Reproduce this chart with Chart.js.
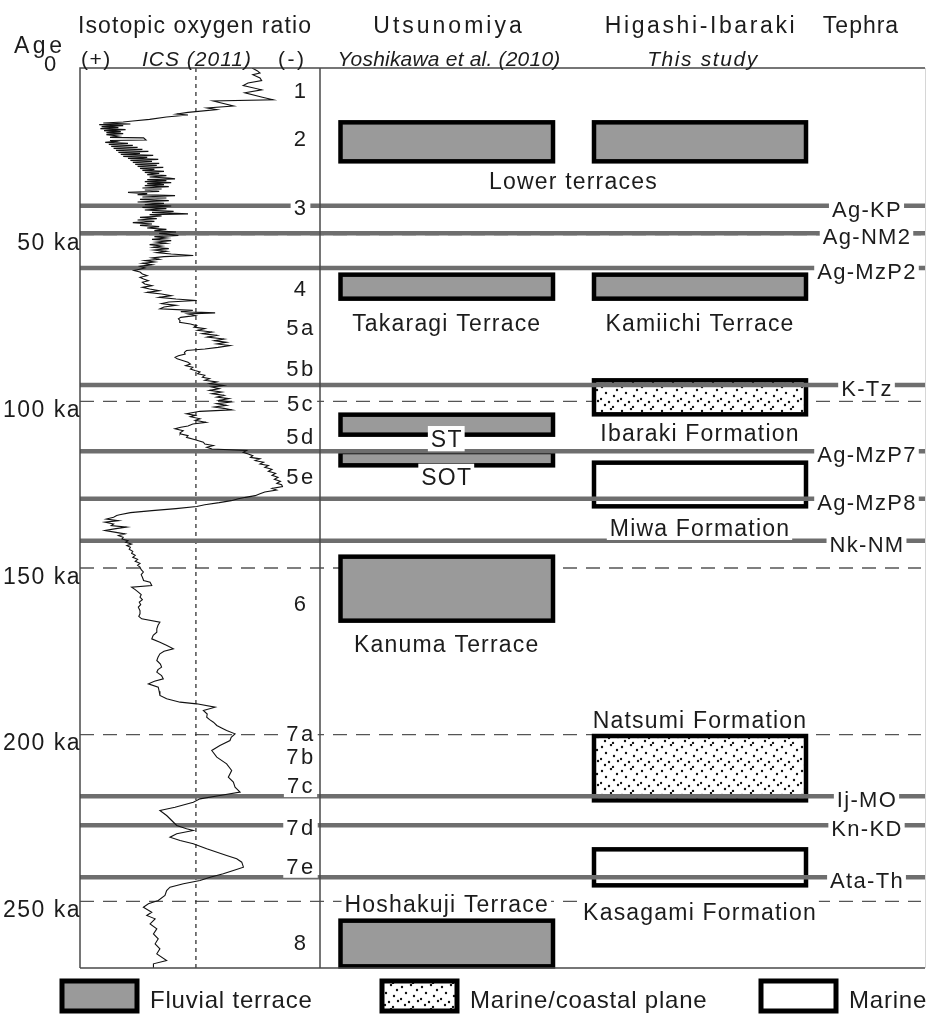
<!DOCTYPE html>
<html>
<head>
<meta charset="utf-8">
<script src="https://cdn.jsdelivr.net/npm/chart.js@4.4.0/dist/chart.umd.min.js"></script>
<style>
  html, body { margin: 0; padding: 0; background: #fff; }
  #wrap { width: 926px; height: 1014px; position: relative; }
</style>
</head>
<body>
<div id="wrap"><canvas id="chart"></canvas></div>
<script>
// ---- data ----
// isotope curve: age (ka) and relative ratio (0 = (+) side, 100 = (-) side of the panel)
const isoAge = [
  0, 0.8, 1.5, 2.0, 3.0, 3.8, 4.5, 5.25, 6.55, 7.45, 8.75, 9.55, 9.9, 11.4, 12.0, 12.5, 13.3, 13.8, 14.1, 14.7,
  15.4, 15.9, 16.2, 16.5, 16.8, 17.0, 17.3, 17.6, 17.9, 18.2, 18.5, 18.8, 19.1, 19.4, 19.7, 20.0, 20.4, 20.8, 20.95, 21.6,
  21.75, 22.0, 22.3, 22.6, 22.9, 23.2, 23.5, 23.8, 24.1, 24.4, 24.7, 25.0, 25.3, 25.6, 25.9, 26.2, 26.5, 26.8, 27.1, 27.4,
  27.7, 28.0, 28.3, 28.6, 28.9, 29.2, 29.5, 29.8, 30.1, 30.4, 30.7, 31.0, 31.3, 31.6, 32.0, 32.3, 32.7, 33.0, 33.25, 33.5,
  33.8, 34.1, 34.4, 34.7, 35.0, 35.3, 35.6, 36.0, 36.3, 36.6, 37.0, 37.3, 37.7, 38.0, 38.3, 38.7, 39.0, 39.4, 39.8, 40.2,
  40.6, 41.0, 41.4, 41.8, 42.2, 42.6, 43.0, 43.3, 43.75, 44.0, 44.4, 44.8, 45.2, 45.6, 46.0, 46.4, 46.8, 47.2, 47.6, 48.0,
  48.4, 48.8, 49.2, 49.6, 50.0, 50.25, 50.6, 51.0, 51.4, 51.8, 52.2, 52.6, 53.0, 53.4, 53.8, 54.2, 54.6, 55.0, 55.4, 55.8,
  56.25, 56.6, 57.0, 57.4, 57.8, 58.2, 58.6, 59.0, 59.5, 60.0, 60.5, 60.75, 61.2, 61.8, 62.3, 62.8, 63.3, 63.8, 64.3, 64.8,
  65.3, 65.8, 66.3, 66.8, 67.3, 67.8, 68.3, 68.8, 69.3, 69.75, 70.2, 70.7, 71.2, 71.7, 72.25, 72.7, 73.1, 73.45, 73.8, 74.3,
  74.8, 75.25, 75.8, 76.3, 76.8, 77.3, 77.75, 78.2, 78.7, 79.2, 79.7, 80.2, 80.75, 81.3, 81.8, 82.3, 82.8, 83.25, 83.8, 84.3,
  84.75, 85.3, 85.8, 86.3, 86.8, 87.25, 87.7, 88.3, 88.8, 89.3, 89.8, 90.3, 90.75, 91.2, 91.7, 92.2, 92.75, 93.2, 93.7, 94.2,
  94.7, 95.25, 95.7, 96.2, 96.7, 97.2, 97.7, 98.2, 98.75, 99.2, 99.7, 100.2, 100.7, 101.2, 101.7, 102.1, 102.55, 103.0, 103.75, 104.2,
  104.6, 105.25, 105.7, 106.3, 106.8, 107.4, 107.8, 108.25, 108.8, 109.3, 109.75, 110.3, 110.8, 111.5, 112.25, 112.8, 113.25, 113.8, 114.3, 114.75,
  115.3, 115.8, 116.3, 116.8, 117.25, 117.8, 118.3, 118.8, 119.25, 119.8, 120.4, 121.0, 121.6, 122.2, 122.8, 123.4, 124.0, 124.6, 125.0, 125.55,
  126.1, 126.6, 127.2, 127.75, 128.3, 128.8, 129.25, 129.8, 130.4, 131.0, 131.55, 132.2, 132.8, 133.4, 134.0, 134.25, 134.8, 135.3, 135.8, 136.25,
  136.8, 137.3, 137.75, 138.2, 138.75, 139.3, 139.75, 140.3, 140.8, 141.3, 141.8, 142.3, 142.8, 143.3, 143.75, 144.4, 145.0, 145.6, 146.2, 146.8,
  147.4, 148.0, 148.6, 149.2, 149.75, 150.5, 151.2, 152.0, 152.8, 153.75, 154.25, 155.25, 155.75, 156.5, 157.25, 158.0, 158.75, 159.5, 160.25, 161.0,
  161.75, 162.8, 163.75, 164.5, 165.25, 166.25, 167.2, 168.25, 169.25, 170.2, 171.25, 172.25, 173.2, 174.25, 175.0, 175.75, 176.8, 177.75, 178.8, 179.75,
  180.5, 181.25, 182.3, 183.25, 184.0, 184.75, 185.75, 187.0, 188.25, 189.25, 190.25, 190.75, 191.75, 192.75, 193.8, 194.75, 195.5, 196.25, 197.25, 198.0,
  198.75, 199.75, 200.8, 201.75, 203.25, 204.75, 206.75, 208.75, 210.75, 212.75, 214.25, 215.75, 217.25, 218.25, 219.25, 220.25, 221.75, 222.75, 224.25, 225.75,
  227.25, 228.25, 228.75, 229.75, 230.75, 231.75, 232.75, 234.25, 236.25, 237.25, 238.25, 239.75, 240.75, 241.75, 242.75, 243.75, 244.75, 245.75, 246.75, 248.25,
  249.75, 250.75, 251.75, 253.25, 254.25, 255.25, 256.75, 258.25, 259.75, 261.25, 262.75, 264.25, 265.75, 267.75, 268.75, 270
];
const isoValue = [
  71.7, 73.8, 75, 72, 75, 75.7, 70, 68, 75.7, 68.7, 76, 80.5, 55.5, 64, 53, 57, 45, 40.3, 45, 36,
  29, 22, 18, 9.7, 21, 8, 18, 9, 16, 8.5, 19, 10, 17, 11, 18, 11, 16, 12.5, 26.5, 27.5,
  12.5, 15, 10.5, 20, 12, 22, 13, 24, 14, 26, 15, 28.5, 16, 25, 17, 30.5, 18, 28, 20, 32.6,
  21, 30, 22, 33, 23, 32, 24, 34.7, 25, 31, 26, 35, 27, 33, 28, 36, 29, 37, 39.6, 28,
  36, 27, 38, 28, 35, 27, 37, 26, 34, 27, 33, 20, 28, 24, 39.6, 26, 36, 25, 37, 24,
  35, 27, 38, 26, 36, 27, 39, 30, 45, 29, 34, 25, 32, 24, 31, 22, 30, 25, 33, 28,
  36, 31, 40, 33, 38, 41, 31, 36, 30, 38, 32, 36, 29, 34, 30.5, 37, 31, 36, 32, 38,
  47.2, 35, 30, 33, 27, 31, 26, 30, 25, 27, 24, 22.5, 25, 26, 28, 25, 26.5, 28.5, 26, 27,
  30, 26, 29, 33, 28, 34, 38, 33, 40, 48.6, 37, 34, 40, 35, 33.3, 47, 42, 56.3, 45, 48,
  42, 41, 41.7, 41.5, 46, 48.6, 47.5, 52, 49, 55, 51, 57, 53, 60, 56, 61, 57, 62.5, 57.5, 52,
  44.4, 43.5, 43.8, 41, 39.6, 40.5, 42.4, 45, 46, 44, 47, 46, 47.9, 50, 49, 52, 51, 54, 52, 57,
  54, 59.7, 55, 58, 54, 59, 55, 60, 57, 62, 58, 63, 57, 61, 56, 60, 63.2, 50, 44.4, 48,
  46, 50, 48, 52.5, 47, 45, 42, 39.6, 43, 42, 41.7, 45, 44.4, 48, 51.4, 52, 55.6, 52.8, 55, 69.4,
  68, 70.1, 72, 71, 75, 73, 76.5, 75, 78.5, 77, 80, 78.5, 81.5, 80, 82.5, 81, 83.5, 82, 84, 84.4,
  80, 81.9, 77, 75, 73, 69, 66, 63, 58, 52, 48.6, 40, 30, 21, 16.5, 15.3, 14, 11, 16, 10.4,
  14, 13, 19.4, 15, 10.4, 15, 18.75, 16, 18, 17.5, 20, 19, 21.5, 19.5, 21, 20.5, 22, 21.5, 23, 22,
  24, 23, 25, 24, 25, 25.5, 26.4, 25.5, 26, 26.5, 29.2, 29.9, 21.5, 23, 24.3, 25.5, 25, 26, 24.7, 25.3,
  24.3, 25, 25, 24.5, 25.7, 33.3, 32.5, 32, 32, 30.5, 29.9, 33.3, 36, 38.9, 35, 33.3, 32.5, 32, 33.5, 34,
  32.5, 32, 34, 34.7, 31, 28.5, 32.6, 33, 33.3, 36.1, 41.7, 48.6, 56.3, 51.4, 53, 52.8, 54, 55.6, 57, 59,
  61.1, 64.6, 63, 62.5, 58.3, 54.9, 57, 61.1, 63.2, 61.8, 63.9, 64.6, 66.7, 58.3, 50, 47.2, 39.6, 33.3, 36.1, 38.2,
  40.3, 44.4, 47.2, 40.3, 37.5, 41.7, 47.2, 52.8, 61.1, 65.3, 67.4, 68.1, 63.9, 59.7, 54.2, 50, 43.1, 37.5, 36.1, 35.4,
  32.6, 28.5, 26.4, 29.9, 27.8, 31.3, 29.2, 32, 30.6, 32.6, 31.3, 33.3, 32, 36.1, 30.6, 30.6
];

// age axis
const ageTicks = [50, 100, 150, 200, 250];

// marine isotope stages
const stageNames = ['1', '2', '3', '4', '5a', '5b', '5c', '5d', '5e', '6', '7a', '7b', '7c', '7d', '7e', '8'];
const stageAges = [6.6, 21, 41.7, 66, 77.6, 90, 100.65, 110.4, 122.4, 160.5, 199.5, 206.4, 215.1, 227.6, 239.3, 262.2];

// tephra
const tephraNames = ['Ag-KP', 'Ag-NM2', 'Ag-MzP2', 'K-Tz', 'Ag-MzP7', 'Ag-MzP8', 'Nk-NM', 'Ij-MO', 'Kn-KD', 'Ata-Th'];
const tephraAges = [41.3, 49.6, 60.0, 95.1, 115.0, 129.2, 141.8, 218.5, 227.2, 242.8];

// Utsunomiya (Yoshikawa et al. 2010)
const utsuUnits = ['Lower terraces', 'Takaragi Terrace', 'ST', 'SOT', 'Kanuma Terrace', 'Hoshakuji Terrace'];
const utsuTop = [16.3, 62.0, 104.0, 115.2, 146.6, 255.8];
const utsuBase = [28.0, 69.2, 110.0, 119.2, 165.8, 269.5];
const utsuKind = ['fluvial', 'fluvial', 'fluvial', 'fluvial', 'fluvial', 'fluvial'];

// Higashi-Ibaraki (this study)
const higaUnits = ['Lower terraces', 'Kamiichi Terrace', 'Ibaraki Formation', 'Miwa Formation', 'Natsumi Formation', 'Kasagami Formation'];
const higaTop = [16.3, 62.0, 93.7, 118.4, 200.4, 234.4];
const higaBase = [28.0, 69.2, 103.9, 131.5, 219.7, 245.2];
const higaKind = ['fluvial', 'fluvial', 'coastal', 'marine', 'coastal', 'marine'];

const legendNames = ['Fluvial terrace', 'Marine/coastal plane', 'Marine'];
const legendKinds = ['fluvial', 'coastal', 'marine'];

// ---- layout ----
const FONT = '"Liberation Sans", Arial, Helvetica, sans-serif';
const RIGHT = 925;
const utsuX = [340.5, 553];
const higaX = [594, 806];
// label offset in px: >0 below box bottom, <0 above box top
const labelDy = {
  'Lower terraces': 19, 'Takaragi Terrace': 24, 'Kamiichi Terrace': 24, 'ST': 4, 'SOT': 11,
  'Kanuma Terrace': 23, 'Hoshakuji Terrace': -17, 'Ibaraki Formation': 18, 'Miwa Formation': 21,
  'Natsumi Formation': -16, 'Kasagami Formation': 26
};
const legendBoxX = [62, 382, 761];

// stipple tile for the marine/coastal plane fill
const stipple = [[2, 3], [11, 1], [17, 6], [6, 9], [14, 12], [1, 15], [9, 18], [18, 17], [5, 21], [13, 23]];
let dots = null;
function dotPattern(ctx) {
  if (dots) return dots;
  const t = document.createElement('canvas');
  t.width = 20; t.height = 24;
  const g = t.getContext('2d');
  g.fillStyle = '#fff';
  g.fillRect(0, 0, 20, 24);
  g.fillStyle = '#111';
  stipple.forEach(p => {
    g.beginPath(); g.arc(p[0], p[1], 1.2, 0, Math.PI * 2); g.fill();
  });
  dots = ctx.createPattern(t, 'repeat');
  return dots;
}

function fillFor(ctx, kind) {
  if (kind === 'fluvial') return '#9a9a9a';
  if (kind === 'coastal') return dotPattern(ctx);
  return '#fff';
}

function drawBox(ctx, x0, x1, y0, y1, kind, lw) {
  ctx.save();
  ctx.fillStyle = fillFor(ctx, kind);
  ctx.fillRect(x0, y0, x1 - x0, y1 - y0);
  ctx.lineWidth = lw || 4.5;
  ctx.strokeStyle = '#000';
  ctx.strokeRect(x0, y0, x1 - x0, y1 - y0);
  ctx.restore();
}

// text drawn around its cap centre cy
function txt(ctx, s, x, cy, o) {
  o = o || {};
  const size = o.size || 22;
  ctx.save();
  ctx.font = (o.italic ? 'italic ' : '') + size + 'px ' + FONT;
  ctx.letterSpacing = (o.sp || 0) + 'px';
  ctx.textAlign = o.align || 'center';
  ctx.textBaseline = 'alphabetic';
  const w = ctx.measureText(s).width;
  const base = cy + size * 0.36;
  if (o.bg) {
    let left = x;
    if (ctx.textAlign === 'center') left = x - w / 2;
    else if (ctx.textAlign === 'right') left = x - w;
    ctx.fillStyle = '#fff';
    ctx.fillRect(left - 3, cy - size * 0.55, w + 5, size * 1.1);
  }
  ctx.fillStyle = o.color || '#1c1c1c';
  ctx.fillText(s, x, base);
  ctx.restore();
}

function hline(ctx, x0, x1, y, color, lw, dash) {
  ctx.save();
  ctx.strokeStyle = color;
  ctx.lineWidth = lw;
  ctx.setLineDash(dash || []);
  ctx.beginPath();
  ctx.moveTo(x0, y); ctx.lineTo(x1, y);
  ctx.stroke();
  ctx.restore();
}

const stratPlugin = {
  id: 'strat',
  beforeDatasetsDraw(chart) {
    const ctx = chart.ctx;
    const ys = chart.scales.y;
    const xs = chart.scales.x;
    const a = chart.chartArea;

    // dashed age lines
    ageTicks.forEach(t => hline(ctx, a.left, RIGHT - 4, ys.getPixelForValue(t), '#555', 1.3, [14, 9]));

    // dotted reference line in the isotope panel
    ctx.save();
    ctx.strokeStyle = '#333';
    ctx.lineWidth = 1.3;
    ctx.setLineDash([4, 4]);
    ctx.beginPath();
    const xd = xs.getPixelForValue(48.3);
    ctx.moveTo(xd, a.top); ctx.lineTo(xd, a.bottom);
    ctx.stroke();
    ctx.restore();

    // unit boxes
    utsuUnits.forEach((n, i) => drawBox(ctx, utsuX[0], utsuX[1], ys.getPixelForValue(utsuTop[i]), ys.getPixelForValue(utsuBase[i]), utsuKind[i]));
    higaUnits.forEach((n, i) => drawBox(ctx, higaX[0], higaX[1], ys.getPixelForValue(higaTop[i]), ys.getPixelForValue(higaBase[i]), higaKind[i]));

    // tephra lines
    tephraAges.forEach(t => hline(ctx, a.left, RIGHT + 1, ys.getPixelForValue(t), '#6e6e6e', 4.5));
  },
  afterDatasetsDraw(chart) {
    const ctx = chart.ctx;
    const ys = chart.scales.y;
    const a = chart.chartArea;

    // frame
    ctx.save();
    ctx.strokeStyle = '#4a4a4a';
    ctx.lineWidth = 1.5;
    ctx.beginPath();
    ctx.moveTo(a.left, a.bottom); ctx.lineTo(a.left, a.top); ctx.lineTo(RIGHT, a.top);
    ctx.moveTo(a.left, a.bottom); ctx.lineTo(RIGHT, a.bottom);
    ctx.moveTo(a.right, a.top); ctx.lineTo(a.right, a.bottom);
    ctx.stroke();
    ctx.strokeStyle = '#d6d6d6';
    ctx.lineWidth = 1;
    ctx.beginPath();
    ctx.moveTo(RIGHT + 0.5, a.top); ctx.lineTo(RIGHT + 0.5, a.bottom);
    ctx.stroke();
    ctx.restore();

    // stage labels
    stageNames.forEach((s, i) => txt(ctx, s, 301, ys.getPixelForValue(stageAges[i]), { size: 22, sp: 2.5, bg: true }));

    // unit labels
    const uc = (utsuX[0] + utsuX[1]) / 2;
    const hc = (higaX[0] + higaX[1]) / 2;
    function unitLabel(n, top, base, cx) {
      const dy = labelDy[n];
      const y = dy >= 0 ? ys.getPixelForValue(base) + dy : ys.getPixelForValue(top) + dy;
      txt(ctx, n, cx, y, { size: 23, sp: 1.2, bg: true });
    }
    utsuUnits.forEach((n, i) => {
      const shared = higaUnits.includes(n);
      unitLabel(n, utsuTop[i], utsuBase[i], shared ? (uc + hc) / 2 : uc);
    });
    higaUnits.forEach((n, i) => {
      if (!utsuUnits.includes(n)) unitLabel(n, higaTop[i], higaBase[i], hc);
    });

    // tephra labels
    tephraNames.forEach((n, i) => txt(ctx, n, 867, ys.getPixelForValue(tephraAges[i]) + 3, { size: 22, sp: 1.3, bg: true }));

    // age labels
    ageTicks.forEach(t => txt(ctx, t + ' ka', a.left + 1, ys.getPixelForValue(t) + 7.5, { size: 23, sp: 1.5, align: 'right' }));
    txt(ctx, '0', 50, 63.5, { size: 22 });
    txt(ctx, 'Age', 14, 45, { size: 23, sp: 3.5, align: 'left' });

    // headers
    txt(ctx, 'Isotopic oxygen ratio', 78, 25, { size: 23, sp: 1.1, align: 'left' });
    txt(ctx, 'Utsunomiya', 449, 25, { size: 23, sp: 3 });
    txt(ctx, 'Higashi-Ibaraki', 701, 25, { size: 23, sp: 2.6 });
    txt(ctx, 'Tephra', 861, 25, { size: 23, sp: 1 });
    txt(ctx, '(+)', 81, 58, { size: 21, sp: 1.5, align: 'left' });
    txt(ctx, 'ICS (2011)', 142, 58, { size: 21, sp: 1, italic: true, align: 'left' });
    txt(ctx, '(-)', 278, 58, { size: 21, sp: 2.5, align: 'left' });
    txt(ctx, 'Yoshikawa et al. (2010)', 449, 58, { size: 21, sp: 0.2, italic: true });
    txt(ctx, 'This study', 703, 58, { size: 21, sp: 1.6, italic: true });

    // legend
    legendNames.forEach((n, i) => {
      const x0 = legendBoxX[i];
      drawBox(ctx, x0, x0 + 75, 981, 1011, legendKinds[i], 5);
      txt(ctx, n, x0 + 88, 999, { size: 24, sp: 0.8, align: 'left' });
    });
  }
};

new Chart(document.getElementById('chart'), {
  type: 'scatter',
  data: {
    datasets: [{
      data: isoAge.map((age, i) => ({ x: isoValue[i], y: age })),
      showLine: true,
      borderColor: '#111',
      borderWidth: 1.1,
      pointRadius: 0,
      tension: 0,
      fill: false
    }]
  },
  options: {
    responsive: true,
    maintainAspectRatio: false,
    animation: false,
    layout: { padding: { left: 80, right: 606, top: 68, bottom: 46 } },
    plugins: { legend: { display: false }, tooltip: { enabled: false } },
    scales: {
      x: { type: 'linear', min: 0, max: 100, display: false },
      y: { type: 'linear', min: 0, max: 270, reverse: true, display: false }
    }
  },
  plugins: [stratPlugin]
});
</script>
</body>
</html>
